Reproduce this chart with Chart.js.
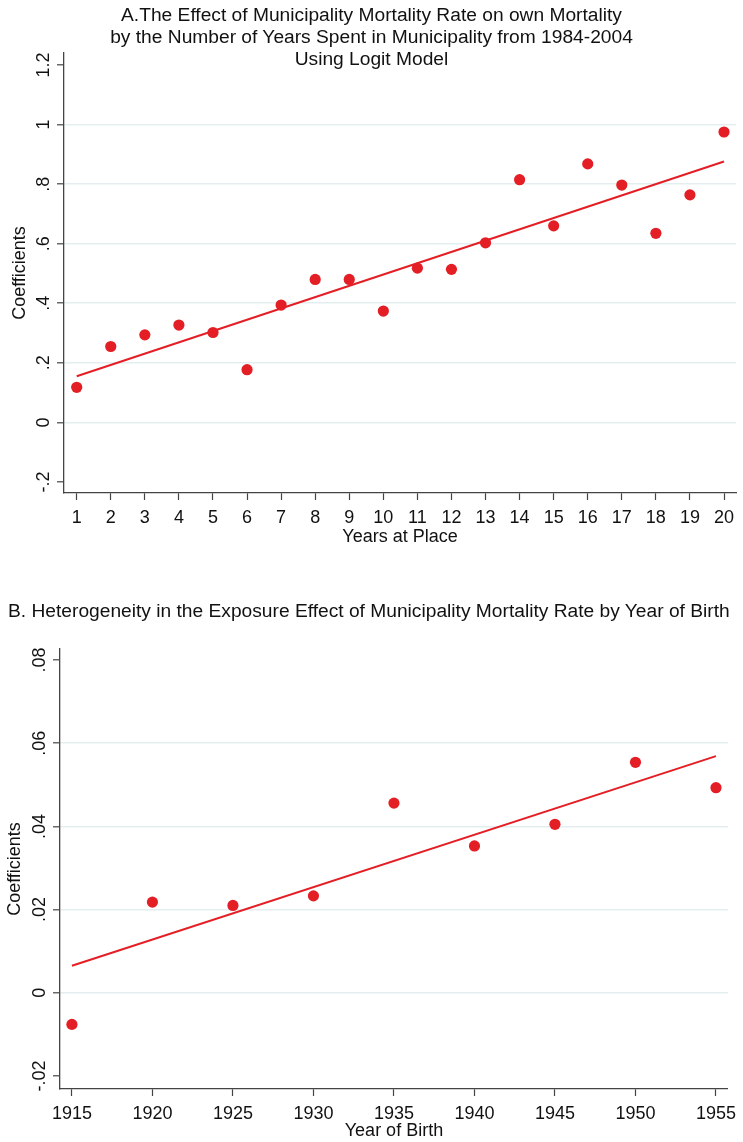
<!DOCTYPE html>
<html><head><meta charset="utf-8">
<script src="https://cdn.jsdelivr.net/npm/chart.js@4.4.1/dist/chart.umd.min.js"></script>
<style>
html,body{margin:0;padding:0;background:#fff;}
body{width:743px;height:1142px;position:relative;overflow:hidden;font-family:'Liberation Sans',Arial,sans-serif;color:#111;}
.title{position:absolute;font-size:19.2px;line-height:22px;white-space:nowrap;}
canvas{position:absolute;left:0;}
</style></head><body>
<canvas id="chartA" width="743" height="560" style="top:0px"></canvas>
<canvas id="chartB" width="743" height="522" style="top:620px"></canvas>
<div class="title" id="titleA" style="left:0;top:4px;width:743px;text-align:center;">A.The Effect of Municipality Mortality Rate on own Mortality<br>by the Number of Years Spent in Municipality from 1984-2004<br>Using Logit Model</div>
<div class="title" id="titleB" style="left:8px;top:600px;">B. Heterogeneity in the Exposure Effect of Municipality Mortality Rate by Year of Birth</div>
<script>
// ---------- Panel A data ----------
const yearsAtPlace = [1,2,3,4,5,6,7,8,9,10,11,12,13,14,15,16,17,18,19,20];
const coefA = [0.118,0.255,0.294,0.327,0.302,0.177,0.394,0.480,0.480,0.374,0.518,0.514,0.603,0.815,0.660,0.868,0.797,0.635,0.764,0.975];
const fitAx = [1,20];
const fitAy = [0.155,0.876];
const xTicksA = [1,2,3,4,5,6,7,8,9,10,11,12,13,14,15,16,17,18,19,20];
const xTickLabelsA = ['1','2','3','4','5','6','7','8','9','10','11','12','13','14','15','16','17','18','19','20'];
const yTicksA = [-0.2,0,0.2,0.4,0.6,0.8,1,1.2];
const yTickLabelsA = ['-.2','0','.2','.4','.6','.8','1','1.2'];

// ---------- Panel B data ----------
const birthYears = [1915,1920,1925,1930,1935,1940,1945,1950,1955];
const coefB = [-0.0076,0.0218,0.0210,0.0233,0.0456,0.0353,0.0405,0.0554,0.0493];
const fitBx = [1915,1955];
const fitBy = [0.0065,0.0569];
const xTicksB = [1915,1920,1925,1930,1935,1940,1945,1950,1955];
const xTickLabelsB = ['1915','1920','1925','1930','1935','1940','1945','1950','1955'];
const yTicksB = [-0.02,0,0.02,0.04,0.06,0.08];
const yTickLabelsB = ['-.02','0','.02','.04','.06','.08'];

const FONT = "'Liberation Sans', Arial, Helvetica, sans-serif";
Chart.defaults.font.family = FONT;
Chart.defaults.font.size = 18;
Chart.defaults.color = '#111';

const RED = '#e41e25';
const AXIS = '#444';
const GRID = '#e4edf0';

function makeChart(id, o) {
  const pts = o.ys.map((y, i) => ({x: o.xs[i], y: y}));
  const fit = o.fx.map((x, i) => ({x: x, y: o.fy[i]}));
  const yT = o.yTicks, yL = o.yLabels, xT = o.xTicks, xL = o.xLabels;
  const near = (a, b) => Math.abs(a - b) < 1e-9;
  return new Chart(document.getElementById(id), {
    type: 'scatter',
    data: {
      datasets: [
        {data: pts, pointRadius: 5.6, pointHoverRadius: 5.6, backgroundColor: RED, borderWidth: 0, order: 1},
        {type: 'line', data: fit, borderColor: RED, borderWidth: 2, pointRadius: 0, fill: false, order: 2}
      ]
    },
    options: {
      responsive: false,
      animation: false,
      devicePixelRatio: 1,
      layout: {padding: {left: 0, right: o.padRight, top: o.padTop, bottom: 0}},
      plugins: {legend: {display: false}, tooltip: {enabled: false}},
      scales: {
        x: {
          type: 'linear', position: 'bottom', min: o.xMin, max: o.xMax,
          afterBuildTicks: s => { s.ticks = xT.map(v => ({value: v})); },
          afterFit: s => { s.height = o.xHeight; },
          ticks: {autoSkip: false, minRotation: 0, maxRotation: 0, padding: o.xTickPad,
                  font: {size: 18}, color: '#111', callback: (v, i) => xL[i]},
          grid: {drawOnChartArea: false, drawTicks: true, tickLength: 7, tickColor: AXIS, tickWidth: 1.2},
          border: {display: true, color: AXIS, width: 1.3},
          title: {display: true, text: o.xTitle, font: {size: 18}, color: '#111', padding: {top: 0, bottom: o.xTitlePad}}
        },
        y: {
          type: 'linear', position: 'left', min: o.yMin, max: o.yMax,
          afterBuildTicks: s => { s.ticks = yT.map(v => ({value: v})); },
          afterFit: s => { s.width = o.yWidth; },
          ticks: {autoSkip: false, minRotation: 90, maxRotation: 90, crossAlign: 'center', padding: o.yTickPad,
                  font: {size: 18}, color: '#111', callback: (v, i) => yL[i]},
          grid: {
            color: ctx => (ctx.tick && (near(ctx.tick.value, yT[0]) || near(ctx.tick.value, yT[yT.length - 1]))) ? 'rgba(0,0,0,0)' : GRID,
            lineWidth: 1.6, drawTicks: true, tickLength: 7, tickColor: AXIS, tickWidth: 1.2
          },
          border: {display: true, color: AXIS, width: 1.3},
          title: {display: true, text: 'Coefficients', font: {size: 18}, color: '#111', padding: {top: o.yTitlePad, bottom: 0}}
        }
      }
    }
  });
}

makeChart('chartA', {
  xs: yearsAtPlace, ys: coefA, fx: fitAx, fy: fitAy,
  xTicks: xTicksA, xLabels: xTickLabelsA, yTicks: yTicksA, yLabels: yTickLabelsA,
  xMin: 0.627, xMax: 20.352, yMin: -0.2369, yMax: 1.2403,
  padTop: 53, padRight: 7, xHeight: 67, yWidth: 64,
  xTickPad: 7.2, xTitlePad: 12.5, yTickPad: 0.5, yTitlePad: 9.2,
  xTitle: 'Years at Place'
});

makeChart('chartB', {
  xs: birthYears, ys: coefB, fx: fitBx, fy: fitBy,
  xTicks: xTicksB, xLabels: xTickLabelsB, yTicks: yTicksB, yLabels: yTickLabelsB,
  xMin: 1914.26, xMax: 1955.74, yMin: -0.023125, yMax: 0.08264,
  padTop: 29, padRight: 11, xHeight: 53, yWidth: 60,
  xTickPad: 6.8, xTitlePad: 0, yTickPad: -2.5, yTitlePad: 4.7,
  xTitle: 'Year of Birth'
});
</script>
</body></html>
